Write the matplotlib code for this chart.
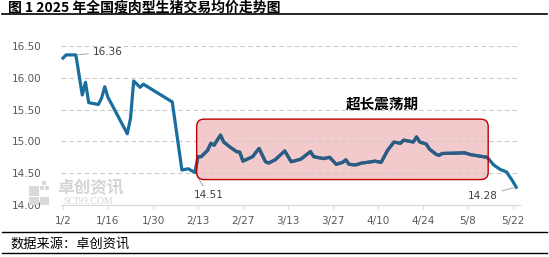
import datetime as dt
import matplotlib
matplotlib.use('Agg')
import matplotlib.pyplot as plt
import matplotlib.dates as mdates
from matplotlib.patches import FancyBboxPatch, Rectangle
from matplotlib.lines import Line2D

plt.rcParams['font.family'] = ['Noto Sans CJK SC', 'DejaVu Sans']

# ---- data ----
dates = ['01-02', '01-03', '01-06', '01-08', '01-09', '01-10', '01-13', '01-14',
         '01-15', '01-16', '01-17', '01-22', '01-23', '01-24', '01-26', '01-27',
         '02-05', '02-08', '02-10', '02-12', '02-13', '02-14', '02-16', '02-17',
         '02-18', '02-20', '02-21', '02-23', '02-25', '02-26', '02-27', '03-02',
         '03-04', '03-06', '03-07', '03-09', '03-12', '03-14', '03-17', '03-20',
         '03-21', '03-24', '03-26', '03-28', '03-30', '03-31', '04-01', '04-03',
         '04-05', '04-08', '04-09', '04-11', '04-13', '04-15', '04-17', '04-18',
         '04-21', '04-22', '04-23', '04-25', '04-26', '04-28', '04-29', '04-30',
         '05-07', '05-09', '05-14', '05-16', '05-18', '05-20', '05-22', '05-23']
prices = [16.31, 16.36, 16.36, 15.73, 15.93, 15.61, 15.58, 15.68,
          15.86, 15.69, 15.60, 15.12, 15.36, 15.95, 15.85, 15.90,
          15.62, 14.55, 14.57, 14.51, 14.76, 14.76, 14.86, 14.97,
          14.94, 15.10, 14.99, 14.91, 14.84, 14.83, 14.69, 14.76,
          14.89, 14.68, 14.66, 14.71, 14.85, 14.68, 14.72, 14.84,
          14.76, 14.73, 14.75, 14.64, 14.67, 14.71, 14.64, 14.63,
          14.66, 14.68, 14.69, 14.67, 14.86, 14.99, 14.97, 15.02,
          14.99, 15.07, 14.99, 14.96, 14.88, 14.80, 14.78, 14.81,
          14.82, 14.79, 14.75, 14.63, 14.56, 14.52, 14.37, 14.28]
tick_dates = ['01-02', '01-16', '01-30', '02-13', '02-27', '03-13', '03-27',
              '04-10', '04-24', '05-08', '05-22']
tick_labels = ['1/2', '1/16', '1/30', '2/13', '2/27', '3/13', '3/27',
               '4/10', '4/24', '5/8', '5/22']
y_ticks = [14.0, 14.5, 15.0, 15.5, 16.0, 16.5]
notes = [('01-06', 16.36, '16.36'), ('02-12', 14.51, '14.51'), ('05-23', 14.28, '14.28')]
band_dates = ('02-12', '05-14')
band_prices = (14.40, 15.35)
band_label = '超长震荡期'


def d(s):
    m, dd = s.split('-')
    return mdates.date2num(dt.datetime(2025, int(m), int(dd)))


x = [d(s) for s in dates]

fig = plt.figure(figsize=(5.49, 2.57), dpi=100)
fig.patch.set_facecolor('white')
ax = fig.add_axes([61 / 549, 52 / 257, 459 / 549, 159 / 257])

ax.plot(x, prices, color='#1A6E9E', lw=2.3, solid_joinstyle='round', zorder=3)

ax.set_ylim(14.0, 16.5)
ax.set_xlim(d('01-01') + 0.38, d('05-24') + 0.2)
ax.set_yticks(y_ticks)
ax.set_yticklabels(['%.2f' % v for v in y_ticks], family='DejaVu Sans',
                   fontsize=7.5, color='#595959')
ax.set_xticks([d(s) for s in tick_dates])
ax.set_xticklabels(tick_labels, family='DejaVu Sans', fontsize=7.5, color='#595959')
ax.tick_params(axis='y', length=0, pad=14)
ax.tick_params(axis='x', length=3, color='#D9D9D9', pad=5)
for s in ['top', 'right', 'left']:
    ax.spines[s].set_visible(False)
ax.spines['bottom'].set_color('#D9D9D9')
ax.grid(axis='y', color='#D0C8C8', ls=(0, (4, 3)), lw=0.8)
ax.set_axisbelow(False)

# highlighted band: pink rounded box, line darker inside it
fig.canvas.draw()
to_ax = ax.transData + ax.transAxes.inverted()
x0, y0 = to_ax.transform((d(band_dates[0]) + 0.6, band_prices[0]))
x1, y1 = to_ax.transform((d(band_dates[1]) + 0.3, band_prices[1]))
aspect = 459 / 159
box = FancyBboxPatch((x0, y0), x1 - x0, y1 - y0, transform=ax.transAxes,
                     boxstyle='round,pad=0,rounding_size=0.016',
                     mutation_aspect=aspect, facecolor='#F2CACB',
                     edgecolor='none', zorder=1.5)
ax.add_patch(box)
inner, = ax.plot(x, prices, color='#2D5C82', lw=2.3, solid_joinstyle='round',
                 zorder=3.5)
inner.set_clip_path(box)
edge = FancyBboxPatch((x0, y0), x1 - x0, y1 - y0, transform=ax.transAxes,
                      boxstyle='round,pad=0,rounding_size=0.016',
                      mutation_aspect=aspect, facecolor='none',
                      edgecolor='#C00000', lw=1.0, zorder=5)
ax.add_patch(edge)
ax.text(d('04-11') + 0.5, 15.59, band_label, fontsize=10.5, fontweight='bold',
        ha='center', va='center', color='black', zorder=6)

# point labels
offsets = [(12, 2), (10, -16), (-13, -6)]
aligns = ['left', 'center', 'right']
for (ds, v, lab), off, ha in zip(notes, offsets, aligns):
    ax.annotate(lab, xy=(d(ds), v), xytext=off, textcoords='offset points',
                fontsize=7.5, family='DejaVu Sans', color='#404040', ha=ha,
                va='center',
                arrowprops=dict(arrowstyle='-', color='#A6A6A6', lw=0.7,
                                shrinkA=1, shrinkB=2))

# watermark
fig.text(90 / 549, 1 - 188 / 257, '卓创资讯', fontsize=12, color='#D4D4D4',
         ha='center', va='center', fontweight='bold')
fig.text(88 / 549, 1 - 201 / 257, 'SCI99.COM', fontsize=7, color='#D4D4D4',
         ha='center', va='center', family='Liberation Serif')
for (rx, ry, rw, rh) in [(29, 186, 10, 10), (29, 197, 10, 8), (40, 197, 9, 8),
                         (40, 186, 4, 4), (45, 186, 4, 4), (42, 181, 4, 4)]:
    fig.add_artist(Rectangle((rx / 549, 1 - (ry + rh) / 257), rw / 549, rh / 257,
                             transform=fig.transFigure, color='#D9D9D9', lw=0))

# title and footer
fig.text(8 / 549, 1 - 7 / 257, '图 1 2025 年全国瘦肉型生猪交易均价走势图',
         fontsize=10, fontweight='bold', ha='left', va='center')
for yy, lw in [(14, 1.2), (232, 1.0), (253, 1.0)]:
    fig.add_artist(Line2D([2 / 549, 547 / 549], [1 - yy / 257] * 2,
                          transform=fig.transFigure, color='black', lw=lw))
fig.text(10 / 549, 1 - 244 / 257, '数据来源：卓创资讯', fontsize=9.5,
         ha='left', va='center')

fig.savefig('out.png', dpi=100)
